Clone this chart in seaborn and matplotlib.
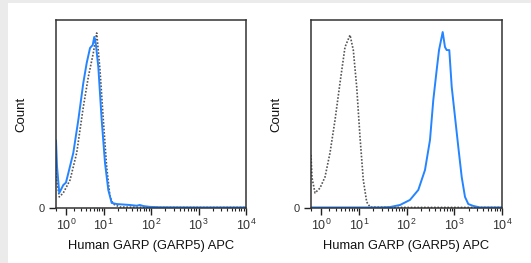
import numpy as np
import pandas as pd
import matplotlib
matplotlib.use("Agg")
import matplotlib.pyplot as plt
from matplotlib.patches import Rectangle
import seaborn as sns

# fluorescence intensity (APC) and counts (% of max scale)
# left panel: cells stained with GARP5 vs isotype, low expression
left_stain_x = [0, 0.1, 0.32, 0.72, 1.0, 1.27, 1.88, 2.61, 3.49, 4.20, 5.01, 5.76, 6.24,
                6.71, 7.65, 9.05, 10.67, 12.54, 14.8, 19.0, 36, 50, 58, 70, 95, 155, 1000, 10000]
left_stain_y = [36, 22, 8.0, 12.2, 13.5, 18.6, 29.3, 46.8, 66.5, 77.1, 85.1, 86.7, 91.0,
                87.8, 75.0, 46.8, 23.9, 9.6, 2.7, 2.1, 1.6, 1.2, 1.6, 1.0, 0.6, 0.4, 0.3, 0.3]
left_iso_x = [0, 0.1, 0.32, 0.72, 1.47, 2.36, 3.49, 4.58, 5.93, 7.05, 8.32, 9.81,
              11.58, 13.64, 16.0, 22.2, 100, 10000]
left_iso_y = [24, 14, 5.9, 8.0, 14.9, 29.3, 53.7, 69.7, 82.4, 93.1, 73.4, 46.8,
              21.8, 5.9, 2.1, 0.5, 0.3, 0.3]

# right panel: GARP+ cells vs isotype
right_stain_x = [0, 10, 27.9, 45.1, 73.1, 118.3, 176.6, 243.8, 310.5, 363.9, 428.5, 479.7,
                 572.8, 639.7, 695.0, 787.0, 885.1, 1037.5, 1216.2, 1432, 1679, 1968,
                 2506, 3459, 10000]
right_stain_y = [0.3, 0.3, 0.3, 0.5, 1.6, 4.3, 9.6, 20.2, 36.2, 57.4, 73.4, 84.0,
                 93.6, 85.6, 84.0, 84.0, 64.4, 48.4, 32.4, 16.5, 5.9, 2.1,
                 1.1, 0.3, 0.3]
right_iso_x = [0, 0.1, 0.39, 0.895, 1.456, 2.10, 2.87, 3.80, 4.96, 6.41, 7.56, 8.95,
               10.52, 12.37, 14.59, 17.2, 100, 10000]
right_iso_y = [28.2, 16, 8.0, 10.6, 16.5, 29.3, 46.8, 66.5, 85.6, 92.0, 84.0, 64.4,
               37.8, 14.9, 3.2, 0.5, 0.3, 0.3]

decades = [1, 10, 100, 1000, 10000]
decade_labels = ["$10^{0}$", "$10^{1}$", "$10^{2}$", "$10^{3}$", "$10^{4}$"]

blue = "#2584ff"
grey = "#555555"


def fwd(x):
    return np.arcsinh(np.asarray(x, dtype=float) / 2) / np.log(10)


def inv(u):
    return 2 * np.sinh(np.asarray(u, dtype=float) * np.log(10))


sns.set_style("white")
plt.rcParams["font.family"] = ["Liberation Sans", "DejaVu Sans"]
plt.rcParams["mathtext.fontset"] = "custom"
plt.rcParams["mathtext.rm"] = "Liberation Sans"

fig = plt.figure(figsize=(5.31, 2.63), dpi=100, facecolor="#ebebeb")
fig.patches.append(Rectangle((8 / 531, 0), 1, 260 / 263, transform=fig.transFigure,
                             facecolor="white", edgecolor="none", zorder=-10))

ax1 = fig.add_axes([56 / 531, 55 / 263, 190 / 531, 188 / 263])
ax2 = fig.add_axes([311 / 531, 55 / 263, 191 / 531, 188 / 263])

panels = [
    (ax1, left_stain_x, left_stain_y, left_iso_x, left_iso_y),
    (ax2, right_stain_x, right_stain_y, right_iso_x, right_iso_y),
]

minor = [0] + [m * d for d in [1, 10, 100, 1000] for m in range(2, 10)]

for ax, sx, sy, ix, iy in panels:
    iso = pd.DataFrame({"x": ix, "y": iy})
    stain = pd.DataFrame({"x": sx, "y": sy})
    sns.lineplot(data=iso, x="x", y="y", ax=ax, color=grey, lw=1.2,
                 linestyle=(0, (1, 1)), sort=False, estimator=None)
    sns.lineplot(data=stain, x="x", y="y", ax=ax, color=blue, lw=1.4,
                 sort=False, estimator=None)
    ax.set_xscale("function", functions=(fwd, inv))
    ax.set_xlim(0, 10000)
    ax.set_ylim(0, 100)
    ax.set_xticks(decades)
    ax.set_xticklabels(decade_labels)
    ax.set_xticks(minor, minor=True)
    ax.xaxis.get_major_ticks()[0].tick1line.set_visible(False)
    ax.set_yticks([0])
    ax.set_yticklabels(["0"])
    ax.tick_params(axis="x", which="major", length=5, width=1, color="#222222",
                   direction="out", bottom=True, labelsize=9, labelcolor="#333333", pad=2)
    ax.tick_params(axis="x", which="minor", length=2.5, width=0.8, color="#222222",
                   direction="out", bottom=True)
    ax.tick_params(axis="y", length=5, width=1, color="#222222", direction="out",
                   left=True, labelsize=8, labelcolor="#333333", pad=3)
    for s in ax.spines.values():
        s.set_color("#333333")
        s.set_linewidth(1.1)
    ax.set_xlabel("Human GARP (GARP5) APC", fontsize=9.3, labelpad=5, color="#111111")
    ax.set_ylabel("Count", fontsize=9.5, labelpad=8, color="#111111")
    ax.set_facecolor("white")

fig.savefig("out.png", dpi=100, facecolor=fig.get_facecolor())
